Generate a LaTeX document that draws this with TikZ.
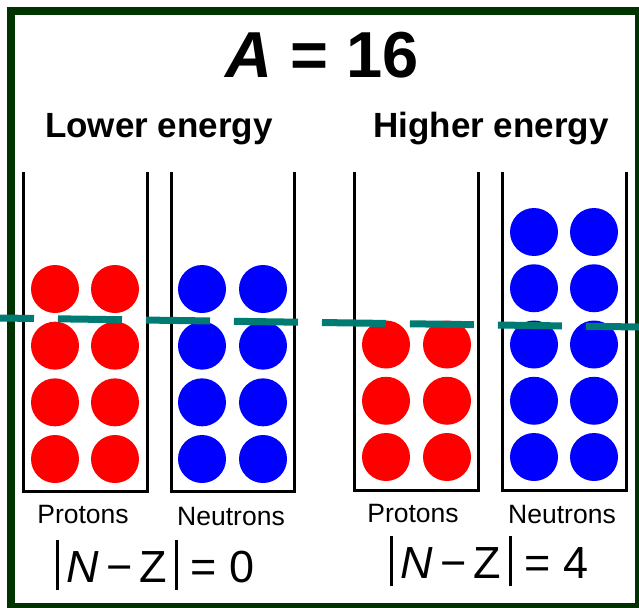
\documentclass[tikz,border=0pt]{standalone}
\usepackage{fontspec}
\setmainfont{Liberation Sans}
\definecolor{framegreen}{RGB}{0,51,0}
\definecolor{levelteal}{RGB}{0,123,115}
\newcommand{\absbar}{\rule[-8pt]{3pt}{50pt}}
\begin{document}
\begin{tikzpicture}[x=1pt,y=-1pt,
  proton/.style={circle,fill=red,minimum size=48pt,inner sep=0pt},
  neutron/.style={circle,fill=blue,minimum size=48pt,inner sep=0pt},
  wall/.style={line width=3pt,black},
  heading/.style={font=\bfseries\fontsize{35}{35}\selectfont,anchor=base,inner sep=0pt},
  label/.style={font=\fontsize{26.5}{26.5}\selectfont,anchor=base,inner sep=0pt},
  formula/.style={font=\fontsize{45}{45}\selectfont,anchor=base,inner sep=0pt},
  level/.style={line width=7pt,levelteal,dash pattern=on 64pt off 24pt,dash phase=30pt}]
\clip (0,0) rectangle (639,607);
\fill[white] (0,0) rectangle (639,607);
\draw[line width=8pt,framegreen] (11,11) rectangle (639,607);
% title and headings
\node[font=\bfseries\fontsize{65}{65}\selectfont,anchor=base,inner sep=0pt] (title) at (322,78) {\textit{A} = 16};
\node[heading] (lower) at (159,137) {Lower energy};
\node[heading] (higher) at (491,137) {Higher energy};
% containers
\draw[wall] (23.5,172) -- (23.5,491.5) -- (147,491.5) -- (147,172);
\draw[wall] (171,172) -- (171,491.5) -- (294,491.5) -- (294,172);
\draw[wall] (354,172) -- (354,490) -- (478,490) -- (478,172);
\draw[wall] (502,172) -- (502,490) -- (626,490) -- (626,172);
% nucleons, lower energy
\foreach \i in {0,...,3} {
  \node[proton] (lpa\i) at (55,{289+\i*56.67}) {};
  \node[proton] (lpb\i) at (115,{289+\i*56.67}) {};
  \node[neutron] (lna\i) at (202,{289+\i*56.67}) {};
  \node[neutron] (lnb\i) at (263,{289+\i*56.67}) {};
}
% nucleons, higher energy
\foreach \i in {0,...,2} {
  \node[proton] (hpa\i) at (386,{344.5+\i*56.25}) {};
  \node[proton] (hpb\i) at (447,{344.5+\i*56.25}) {};
}
\foreach \i in {0,...,4} {
  \node[neutron] (hna\i) at (534,{232+\i*56.25}) {};
  \node[neutron] (hnb\i) at (594,{232+\i*56.25}) {};
}
% Fermi level
\coordinate (fl) at (0,318);
\coordinate (fr) at (639,327);
\draw[level] (fl) -- (fr);
% labels
\node[label] (lp) at (83,523) {Protons};
\node[label] (ln) at (231,525) {Neutrons};
\node[label] (hp) at (413,522) {Protons};
\node[label] (hn) at (562,523) {Neutrons};
\node[formula] (lf) at (155,582) {\absbar\,\textit{N}\,−\,Z\,\absbar\ =\ 0};
\node[formula] (hf) at (489,578) {\absbar\,\textit{N}\,−\,Z\,\absbar\ =\ 4};
\end{tikzpicture}
\end{document}
